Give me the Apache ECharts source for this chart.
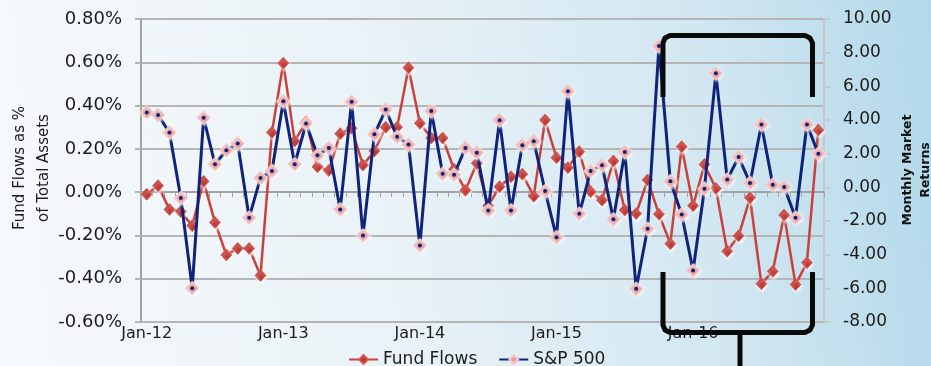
<!DOCTYPE html>
<html>
<head>
<meta charset="utf-8">
<script src="https://cdn.jsdelivr.net/npm/echarts@6/dist/echarts.min.js"></script>
<style>
  html, body { margin: 0; padding: 0; }
  #chart { width: 931px; height: 366px; }
</style>
</head>
<body>
<div id="chart"></div>
<script>
// Monthly observations, Jan 2012 – Dec 2016
const months = [
  'Jan-12','Feb-12','Mar-12','Apr-12','May-12','Jun-12','Jul-12','Aug-12','Sep-12','Oct-12','Nov-12','Dec-12',
  'Jan-13','Feb-13','Mar-13','Apr-13','May-13','Jun-13','Jul-13','Aug-13','Sep-13','Oct-13','Nov-13','Dec-13',
  'Jan-14','Feb-14','Mar-14','Apr-14','May-14','Jun-14','Jul-14','Aug-14','Sep-14','Oct-14','Nov-14','Dec-14',
  'Jan-15','Feb-15','Mar-15','Apr-15','May-15','Jun-15','Jul-15','Aug-15','Sep-15','Oct-15','Nov-15','Dec-15',
  'Jan-16','Feb-16','Mar-16','Apr-16','May-16','Jun-16','Jul-16','Aug-16','Sep-16','Oct-16','Nov-16','Dec-16'
];

// Fund flows as % of total assets (left axis, in percent)
const fundFlows = [
  -0.01, 0.03, -0.08, -0.09, -0.155, 0.05, -0.14, -0.29, -0.26, -0.26, -0.385, 0.276,
  0.596, 0.236, 0.325, 0.117, 0.10, 0.27, 0.295, 0.125, 0.19, 0.30, 0.30, 0.575,
  0.318, 0.25, 0.25, 0.106, 0.009, 0.133, -0.063, 0.025, 0.071, 0.083, -0.019, 0.333,
  0.159, 0.113, 0.187, 0.002, -0.037, 0.144, -0.083, -0.099, 0.056, -0.102, -0.238, 0.21,
  -0.063, 0.128, 0.017, -0.273, -0.202, -0.026, -0.423, -0.366, -0.106, -0.427, -0.326, 0.287
];

// S&P 500 monthly market returns (right axis)
const sp500 = [
  4.45, 4.29, 3.26, -0.63, -5.99, 4.13, 1.37, 2.2, 2.6, -1.8, 0.56, 0.97,
  5.12, 1.37, 3.79, 1.9, 2.34, -1.31, 5.08, -2.86, 3.15, 4.62, 3.0, 2.54,
  -3.45, 4.54, 0.81, 0.75, 2.34, 2.06, -1.37, 3.99, -1.37, 2.5, 2.74, -0.22,
  -2.96, 5.71, -1.57, 0.97, 1.31, -1.9, 2.1, -6.03, -2.46, 8.39, 0.36, -1.61,
  -4.94, -0.08, 6.77, 0.46, 1.80, 0.26, 3.73, 0.16, 0.02, -1.8, 3.73, 2.0
];

// Axis ranges
const flowRange = [-0.6, 0.8, 0.2];
const returnRange = [-8, 10, 2];

const FONT = 'DejaVu Sans';
const TEXT = '#1c1c1c';
const GRID_GRAY = '#b5b5b5';
const AXIS_GRAY = '#a3a3a3';
const RED = '#c8413c';
const NAVY = '#10237a';

const chart = echarts.init(document.getElementById('chart'), null, { renderer: 'canvas' });

// Black bracket outline around the late-2015/2016 stretch
const bracketStyle = { stroke: '#0a0a0a', lineWidth: 5, fill: null, lineJoin: 'round', lineCap: 'butt' };

chart.setOption({
  animation: false,
  backgroundColor: {
    type: 'linear', x: 0, y: 0.3, x2: 1, y2: 0,
    colorStops: [
      { offset: 0, color: '#f6f9fb' },
      { offset: 0.4, color: '#e9f2f7' },
      { offset: 0.75, color: '#d2e7f1' },
      { offset: 1, color: '#b3d8ea' }
    ]
  },
  grid: { left: 141, right: 107, top: 19, bottom: 44, containLabel: false },
  legend: {
    data: ['Fund Flows', 'S&P 500'],
    left: 343,
    top: 346,
    itemWidth: 29,
    itemHeight: 11,
    itemGap: 21,
    textStyle: { fontFamily: FONT, fontSize: 17, color: TEXT }
  },
  xAxis: [
    {
      type: 'category',
      data: months,
      boundaryGap: true,
      position: 'bottom',
      axisLine: { show: false, onZero: false },
      axisTick: { show: false },
      axisLabel: { interval: 11, fontFamily: FONT, fontSize: 16, color: TEXT, margin: 4 },
      splitLine: { show: false }
    },
    {
      type: 'category',
      data: months,
      boundaryGap: true,
      position: 'top',
      axisLine: { show: true, onZero: true, onZeroAxisIndex: 0, lineStyle: { color: AXIS_GRAY, width: 2 } },
      axisTick: { show: true, inside: true, length: 5, interval: 0, lineStyle: { color: AXIS_GRAY, width: 1 } },
      axisLabel: { show: false },
      splitLine: { show: false }
    }
  ],
  yAxis: [
    {
      type: 'value',
      position: 'left',
      min: flowRange[0], max: flowRange[1], interval: flowRange[2],
      axisLine: { show: true, lineStyle: { color: AXIS_GRAY, width: 2 } },
      axisTick: { show: true, length: 6, lineStyle: { color: GRID_GRAY, width: 2 } },
      axisLabel: {
        fontFamily: FONT, fontSize: 18, color: TEXT, margin: 19,
        formatter: v => v.toFixed(2) + '%'
      },
      splitLine: { show: true, lineStyle: { color: GRID_GRAY, width: 2 } }
    },
    {
      type: 'value',
      position: 'right',
      min: returnRange[0], max: returnRange[1], interval: returnRange[2],
      axisLine: { show: true, lineStyle: { color: '#c4c9cc', width: 2 } },
      axisTick: { show: true, length: 6, lineStyle: { color: '#c4c9cc', width: 2 } },
      axisLabel: {
        fontFamily: FONT, fontSize: 17, color: TEXT, margin: 19,
        formatter: v => v.toFixed(2)
      },
      splitLine: { show: false }
    }
  ],
  series: [
    {
      name: 'Fund Flows',
      type: 'line',
      xAxisIndex: 0,
      yAxisIndex: 0,
      data: fundFlows,
      symbol: 'diamond',
      symbolSize: [11, 12],
      showSymbol: true,
      showAllSymbol: true,
      lineStyle: { color: RED, width: 2.5 },
      itemStyle: {
        color: '#bf3530',
        borderColor: '#d65a55',
        borderWidth: 0.8,
        shadowColor: 'rgba(255,255,255,0.95)',
        shadowBlur: 3,
        shadowOffsetX: 1,
        shadowOffsetY: 2
      },
      z: 3
    },
    {
      name: 'S&P 500',
      type: 'line',
      xAxisIndex: 0,
      yAxisIndex: 1,
      data: sp500,
      symbol: 'diamond',
      symbolSize: 13,
      showSymbol: true,
      showAllSymbol: true,
      lineStyle: { color: NAVY, width: 3 },
      itemStyle: {
        color: '#e9a2a2',
        borderColor: '#f5caca',
        borderWidth: 1.2,
        shadowColor: 'rgba(255,255,255,0.8)',
        shadowBlur: 3,
        shadowOffsetX: 1,
        shadowOffsetY: 1
      },
      z: 4
    },
    {
      name: 'S&P 500 centre',
      type: 'line',
      xAxisIndex: 0,
      yAxisIndex: 1,
      data: sp500,
      symbol: 'circle',
      symbolSize: 4,
      showSymbol: true,
      showAllSymbol: true,
      lineStyle: { opacity: 0, width: 0 },
      itemStyle: { color: NAVY },
      silent: true,
      z: 5
    }
  ],
  graphic: [
    {
      type: 'text',
      x: 32, y: 168,
      rotation: Math.PI / 2,
      style: {
        text: 'Fund Flows as %\nof Total Assets',
        font: '15px "DejaVu Sans"',
        fill: TEXT,
        align: 'center',
        verticalAlign: 'middle',
        lineHeight: 24
      },
      z: 10
    },
    {
      type: 'text',
      x: 917, y: 170,
      rotation: Math.PI / 2,
      style: {
        text: 'Monthly Market\nReturns',
        font: 'bold 12.5px "DejaVu Sans"',
        fill: '#111',
        align: 'center',
        verticalAlign: 'middle',
        lineHeight: 18
      },
      z: 10
    },
    {
      type: 'polyline',
      shape: { points: [[663, 97], [663, 43], [665, 38], [670, 35.5], [805, 35.5], [810, 38], [812.5, 43], [812.5, 97]] },
      style: bracketStyle,
      z: 20
    },
    {
      type: 'polyline',
      shape: { points: [[663, 272], [663, 325], [665, 330], [670, 332.5], [805, 332.5], [810, 330], [812.5, 325], [812.5, 272]] },
      style: bracketStyle,
      z: 20
    },
    {
      type: 'line',
      shape: { x1: 740, y1: 332, x2: 740, y2: 366 },
      style: { stroke: '#0a0a0a', lineWidth: 5 },
      z: 20
    }
  ]
});
</script>
</body>
</html>
